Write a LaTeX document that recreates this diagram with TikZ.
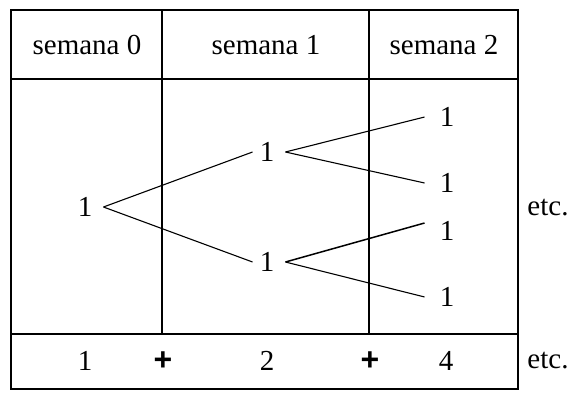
\documentclass[tikz,border=0pt]{standalone}
\usepackage{fontspec}
\setmainfont{Liberation Serif}
\newfontfamily\plusfont{Liberation Sans}
\begin{document}
\begin{tikzpicture}[x=1pt,y=-1pt,
  frame/.style={line width=1.8pt},
  branch/.style={line width=1.1pt},
  txt/.style={inner sep=0pt,font=\fontsize{29}{33}\selectfont},
  plus/.style={inner sep=0pt,font=\fontsize{32}{36}\selectfont\plusfont\bfseries}]
\useasboundingbox (0,0) rectangle (574,400);
% frame
\draw[frame] (11,10) rectangle (518,389);
\draw[frame] (11,79) -- (518,79);
\draw[frame] (11,334) -- (518,334);
\draw[frame] (162,10) -- (162,334);
\draw[frame] (369,10) -- (369,334);
% headers
\node[txt] (h0) at (87,45) {semana 0};
\node[txt] (h1) at (266,45) {semana 1};
\node[txt] (h2) at (444,45) {semana 2};
% tree
\node[txt] (r) at (85,207) {1};
\node[txt] (a) at (267,152) {1};
\node[txt] (b) at (267,262) {1};
\node[txt] (a1) at (447,117) {1};
\node[txt] (a2) at (447,183) {1};
\node[txt] (b1) at (447,231) {1};
\node[txt] (b2) at (447,297) {1};
\draw[branch] ([xshift=11pt]r.east) -- ([xshift=-7pt]a.west);
\draw[branch] ([xshift=11pt]r.east) -- ([xshift=-7pt]b.west);
\draw[branch] ([xshift=11pt]a.east) -- ([xshift=-15pt]a1.west);
\draw[branch] ([xshift=11pt]a.east) -- ([xshift=-15pt]a2.west);
\draw[branch,line width=1.5pt] ([xshift=11pt]b.east) -- ([xshift=-15pt,yshift=8pt]b1.west);
\draw[branch] ([xshift=11pt]b.east) -- ([xshift=-15pt]b2.west);
\node[txt] (e1) at (548,208) {etc.};
% bottom row
\node[txt] (s0) at (85,361) {1};
\node[plus] (p1) at (163,361) {+};
\node[txt] (s1) at (267,361) {2};
\node[plus] (p2) at (370,361) {+};
\node[txt] (s2) at (446,361) {4};
\node[txt] (e2) at (548,361) {etc.};
\end{tikzpicture}
\end{document}
